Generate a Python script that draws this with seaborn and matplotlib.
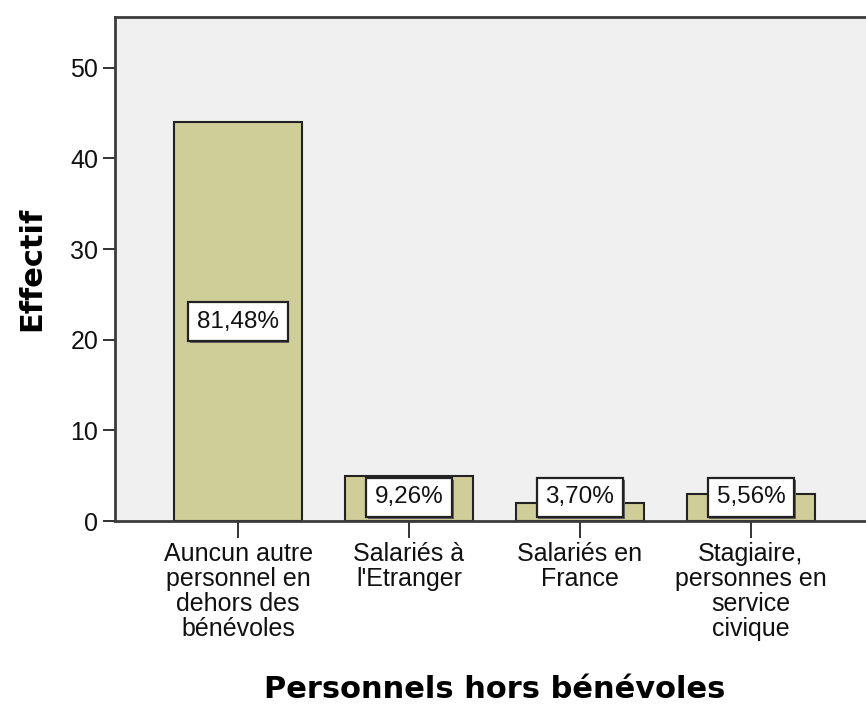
import numpy as np
import pandas as pd
import matplotlib
matplotlib.use("Agg")
import matplotlib.pyplot as plt
import matplotlib.patheffects as pe
import seaborn as sns

# Data
categories = ["Auncun autre\npersonnel en\ndehors des\nbénévoles",
              "Salariés à\nl'Etranger",
              "Salariés en\nFrance",
              "Stagiaire,\npersonnes en\nservice\ncivique"]
effectifs = [44, 5, 2, 3]
pct_labels = ["81,48%", "9,26%", "3,70%", "5,56%"]

df = pd.DataFrame({"cat": categories, "n": effectifs})

sns.set_style("white")
plt.rcParams['font.family'] = ['Liberation Sans', 'DejaVu Sans']

fig = plt.figure(figsize=(8.66, 7.04), dpi=100)
ax = fig.add_axes([0.1328, 0.2599, 0.8764, 0.716])
ax.set_facecolor("#f0f0f0")

sns.barplot(data=df, x="cat", y="n", color="#d0ce98", width=0.75,
            edgecolor="#222222", linewidth=1.5, saturation=1, ax=ax)

# percentage boxes
for i, (v, lab) in enumerate(zip(effectifs, pct_labels)):
    y = max(v / 2, 2.6)
    t = ax.text(i, y, lab, ha="center", va="center", fontsize=17.5, color="#111111",
                bbox=dict(boxstyle="square,pad=0.36", facecolor="white",
                          edgecolor="#222222", linewidth=1.6))
    t.get_bbox_patch().set_path_effects([
        pe.SimplePatchShadow(offset=(1.2, -1.5), shadow_rgbFace="#666666", alpha=1),
        pe.Normal()])

ax.set_xlim(-0.72, 3.72)
ax.set_ylim(0, 55.6)
ax.set_yticks([0, 10, 20, 30, 40, 50])
ax.tick_params(axis="y", direction="out", length=9, width=1.3, colors="#222222",
               labelsize=18, labelcolor="#111111", left=True, pad=3)
ax.tick_params(axis="x", direction="out", length=12, width=1.3, colors="#222222",
               labelsize=18, labelcolor="#111111", bottom=True, pad=3)
for lab in ax.get_xticklabels():
    lab.set_linespacing(1.05)

for side in ["left", "top", "bottom"]:
    ax.spines[side].set_color("#3c3c3c")
    ax.spines[side].set_linewidth(2)
ax.spines["right"].set_visible(False)

ax.set_xlabel("Personnels hors bénévoles", fontsize=22, fontweight="bold",
              family="DejaVu Sans", color="black", labelpad=25)
ax.set_ylabel("Effectif", fontsize=22, fontweight="bold",
              family="DejaVu Sans", color="black", labelpad=17)

fig.savefig("out.png", dpi=100)
